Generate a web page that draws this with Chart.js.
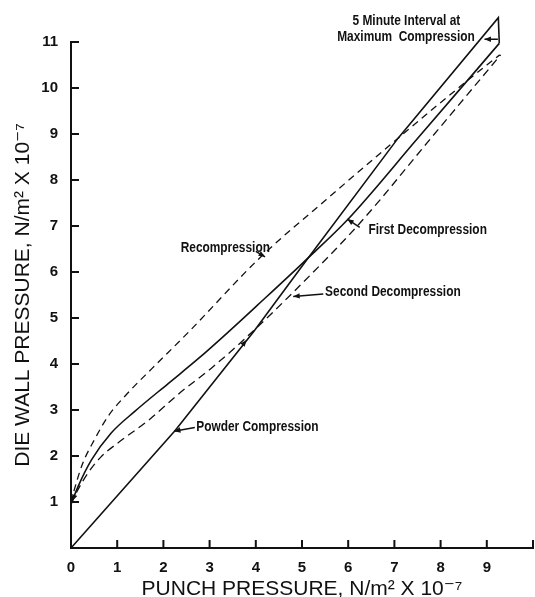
<!DOCTYPE html>
<html lang="en">
<head>
<meta charset="UTF-8">
<title>Die wall pressure vs punch pressure</title>
<script src="https://cdn.jsdelivr.net/npm/chart.js@4.4.0/dist/chart.umd.min.js"></script>
<style>
  html, body { margin: 0; padding: 0; background: #fff; }
  #wrap { width: 535px; height: 597px; }
</style>
</head>
<body>
<div id="wrap"><canvas id="pressure"></canvas></div>
<script>
// punch pressure (x) vs die wall pressure (y), both in N/m2 x 10^-7
// powder compression, then the 5 minute hold at maximum compression
const powderX = [0, 2.25, 3.96, 5.02, 7.08, 9.25, 9.27];
const powderY = [0, 2.55, 4.71, 6.15, 8.91, 11.53, 10.97];

const firstDecompX = [0, 0.15, 0.44, 0.87, 1.38, 2.11, 2.76, 3.42, 4.08, 5.02, 5.99, 7.5, 8.63, 9.27];
const firstDecompY = [0.95, 1.33, 1.91, 2.5, 2.97, 3.58, 4.12, 4.71, 5.32, 6.2, 7.14, 8.9, 10.22, 10.97];

const recompX = [0, 0.07, 0.25, 0.51, 0.8, 1.24, 1.75, 2.55, 4.1, 5.52, 7.08, 8.42, 9.0, 9.28];
const recompY = [0.98, 1.26, 1.83, 2.36, 2.86, 3.38, 3.9, 4.7, 6.32, 7.57, 8.91, 10.03, 10.5, 10.72];

const secondDecompX = [0, 0.11, 0.36, 0.65, 1.09, 1.67, 2.33, 3.05, 3.71, 4.8, 6.25, 7.8, 9.3];
const secondDecompY = [0.95, 1.19, 1.62, 1.98, 2.34, 2.77, 3.35, 3.92, 4.5, 5.55, 7.06, 8.92, 10.72];

const xTicks = [0, 1, 2, 3, 4, 5, 6, 7, 8, 9];
const yTicks = [1, 2, 3, 4, 5, 6, 7, 8, 9, 10, 11];

const toPoints = (xs, ys) => xs.map((x, i) => ({ x: x, y: ys[i] }));

const ink = '#111';
const family = '"Liberation Sans", Arial, "DejaVu Sans", sans-serif';

// curve labels and pointer arrows, in data units
const notes = [
    { text: '5 Minute Interval at', x: 7.26, y: 11.45, align: 'center' },
    { text: 'Maximum  Compression', x: 7.25, y: 11.1, align: 'center' },
    { text: 'Recompression', x: 3.34, y: 6.51, align: 'center' },
    { text: 'First Decompression', x: 6.44, y: 6.9, align: 'left' },
    { text: 'Second Decompression', x: 5.5, y: 5.56, align: 'left' },
    { text: 'Powder Compression', x: 2.71, y: 2.63, align: 'left' }
];
const arrows = [
    { from: [9.24, 11.06], to: [8.95, 11.06] },
    { from: [4.0, 6.45], to: [4.2, 6.33] },
    { from: [6.25, 6.97], to: [5.98, 7.15] },
    { from: [5.46, 5.52], to: [4.81, 5.47] },
    { from: [2.68, 2.62], to: [2.23, 2.54] }
];
// bare arrowheads showing direction along the curves
const heads = [
    { from: [0.15, 1.33], to: [0.03, 1.02] },
    { from: [3.6, 4.27], to: [3.8, 4.52] }
];

function drawHead(ctx, x0, y0, x1, y1, size) {
    const a = Math.atan2(y1 - y0, x1 - x0);
    ctx.beginPath();
    ctx.moveTo(x1, y1);
    ctx.lineTo(x1 - size * Math.cos(a - 0.4), y1 - size * Math.sin(a - 0.4));
    ctx.lineTo(x1 - size * Math.cos(a + 0.4), y1 - size * Math.sin(a + 0.4));
    ctx.closePath();
    ctx.fill();
}

// ticks that point into the plot instead of out of it
const innerTicks = {
    id: 'innerTicks',
    afterDraw(chart) {
        const { ctx, scales: { x, y } } = chart;
        ctx.save();
        ctx.strokeStyle = ink;
        ctx.lineWidth = 2;
        ctx.beginPath();
        x.ticks.forEach(t => {
            if (t.value === 0) return;
            const px = x.getPixelForValue(t.value);
            ctx.moveTo(px, y.bottom);
            ctx.lineTo(px, y.bottom - 8);
        });
        y.ticks.forEach(t => {
            if (t.value === 0) return;
            const py = y.getPixelForValue(t.value);
            ctx.moveTo(x.left, py);
            ctx.lineTo(x.left + 8, py);
        });
        ctx.stroke();
        ctx.restore();
    }
};

const curveNotes = {
    id: 'curveNotes',
    afterDatasetsDraw(chart) {
        const { ctx, scales: { x, y } } = chart;
        ctx.save();
        ctx.fillStyle = ink;
        ctx.strokeStyle = ink;
        ctx.font = 'bold 14px ' + family;
        ctx.textBaseline = 'middle';
        const squeeze = 0.85;
        notes.forEach(n => {
            const px = x.getPixelForValue(n.x);
            const py = y.getPixelForValue(n.y);
            const w = ctx.measureText(n.text).width * squeeze;
            const left = n.align === 'center' ? px - w / 2 : px;
            ctx.save();
            ctx.translate(left, py);
            ctx.scale(squeeze, 1);
            ctx.textAlign = 'left';
            ctx.fillText(n.text, 0, 0);
            ctx.restore();
        });
        ctx.lineWidth = 1.5;
        arrows.forEach(a => {
            const x0 = x.getPixelForValue(a.from[0]), y0 = y.getPixelForValue(a.from[1]);
            const x1 = x.getPixelForValue(a.to[0]), y1 = y.getPixelForValue(a.to[1]);
            ctx.beginPath();
            ctx.moveTo(x0, y0);
            ctx.lineTo(x1, y1);
            ctx.stroke();
            drawHead(ctx, x0, y0, x1, y1, 7);
        });
        heads.forEach(a => {
            drawHead(ctx, x.getPixelForValue(a.from[0]), y.getPixelForValue(a.from[1]),
                x.getPixelForValue(a.to[0]), y.getPixelForValue(a.to[1]), 7);
        });
        ctx.restore();
    }
};

new Chart(document.getElementById('pressure'), {
    type: 'scatter',
    data: {
        datasets: [
            {
                label: 'Powder Compression',
                data: toPoints(powderX, powderY),
                borderColor: ink, borderWidth: 1.6, tension: 0
            },
            {
                label: 'First Decompression',
                data: toPoints(firstDecompX, firstDecompY),
                borderColor: ink, borderWidth: 1.6, cubicInterpolationMode: 'monotone'
            },
            {
                label: 'Recompression',
                data: toPoints(recompX, recompY),
                borderColor: ink, borderWidth: 1.3, borderDash: [7, 5], cubicInterpolationMode: 'monotone'
            },
            {
                label: 'Second Decompression',
                data: toPoints(secondDecompX, secondDecompY),
                borderColor: ink, borderWidth: 1.3, borderDash: [8, 5], cubicInterpolationMode: 'monotone'
            }
        ]
    },
    options: {
        responsive: true,
        maintainAspectRatio: false,
        animation: false,
        devicePixelRatio: 1,
        layout: { padding: { top: 42, right: 2, left: 0, bottom: 0 } },
        datasets: {
            scatter: { showLine: true, pointRadius: 0, clip: false, fill: false }
        },
        plugins: {
            legend: { display: false },
            tooltip: { enabled: false }
        },
        scales: {
            x: {
                type: 'linear',
                min: 0,
                max: 10,
                afterFit: s => { s.height = 49; s.paddingRight = 0; },
                afterBuildTicks: s => { s.ticks = xTicks.concat([10]).map(v => ({ value: v })); },
                grid: { display: false, drawTicks: false },
                border: { display: true, color: ink, width: 2 },
                ticks: {
                    color: ink,
                    padding: 11,
                    maxRotation: 0,
                    font: { family: family, size: 15, weight: 'bold' },
                    callback: v => (xTicks.includes(v) ? String(v) : '')
                },
                title: {
                    display: true,
                    text: 'PUNCH PRESSURE, N/m² X 10⁻⁷',
                    color: ink,
                    font: { family: family, size: 21 },
                    padding: { top: 0, bottom: -5 }
                }
            },
            y: {
                type: 'linear',
                min: 0,
                max: 11,
                afterFit: s => { s.width = 71; },
                afterBuildTicks: s => { s.ticks = [0].concat(yTicks).map(v => ({ value: v })); },
                grid: { display: false, drawTicks: false },
                border: { display: true, color: ink, width: 2 },
                ticks: {
                    color: ink,
                    padding: 13,
                    font: { family: family, size: 15, weight: 'bold' },
                    callback: v => (yTicks.includes(v) ? String(v) : '')
                },
                title: {
                    display: true,
                    text: 'DIE WALL PRESSURE, N/m² X 10⁻⁷',
                    color: ink,
                    font: { family: family, size: 21 },
                    padding: { top: 11, bottom: 0 }
                }
            }
        }
    },
    plugins: [innerTicks, curveNotes]
});
</script>
</body>
</html>
